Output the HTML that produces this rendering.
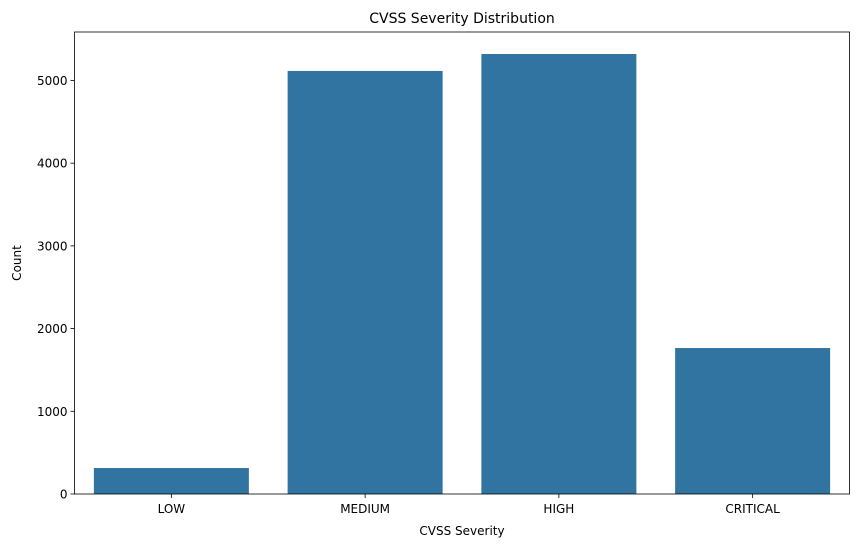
<!DOCTYPE html>
<html><head><meta charset="utf-8"><style>
body{margin:0;background:#fff;font-family:"Liberation Sans","DejaVu Sans",sans-serif}
svg text{font-family:"DejaVu Sans","Liberation Sans",sans-serif;fill:#000}
</style></head><body>
<svg id="chart" width="859" height="547">
<text x="462" y="23" font-size="14" text-anchor="middle">CVSS Severity Distribution</text>
<g id="bars"></g>
<g id="axes"></g>
<text x="462" y="535" font-size="12" text-anchor="middle">CVSS Severity</text>
<text transform="translate(21,263) rotate(-90)" font-size="12" text-anchor="middle">Count</text>
</svg>
<script>
const categories=["LOW","MEDIUM","HIGH","CRITICAL"];
const counts=[314,5115,5320,1765];
const yTicks=[0,1000,2000,3000,4000,5000];
const L=74.5,R=849.5,T=32,B=494,YMAX=5586;
const ns="http://www.w3.org/2000/svg";
const y=v=>B-(v/YMAX)*(B-T);
const band=(R-L)/categories.length;
const xc=i=>L+band*(i+0.5);
const bars=document.getElementById('bars'),axes=document.getElementById('axes');
function mk(tag,attrs,parent){const e=document.createElementNS(ns,tag);for(const k in attrs)e.setAttribute(k,attrs[k]);parent.appendChild(e);return e;}
categories.forEach((c,i)=>{
  const w=band*0.8;
  const r=mk('rect',{x:xc(i)-w/2,y:y(counts[i]),width:w,height:B-y(counts[i]),fill:'#3274a1'},bars);
  
  
  mk('line',{x1:xc(i),x2:xc(i),y1:B,y2:B+4,stroke:'#000','stroke-width':0.8},axes);
  const t=mk('text',{x:xc(i),y:B+19,'font-size':12,'text-anchor':'middle'},axes);
  t.textContent=c;
  
  
});
yTicks.forEach(v=>{
  mk('line',{x1:L-4,x2:L,y1:y(v),y2:y(v),stroke:'#000','stroke-width':0.8},axes);
  const t=mk('text',{x:L-7,y:y(v)+4.5,'font-size':12,'text-anchor':'end'},axes);
  t.textContent=v;
  
  
});
const f=mk('rect',{x:L,y:T,width:R-L,height:B-T,fill:'none',stroke:'#000','stroke-width':0.8},axes);


</script>
</body></html>
